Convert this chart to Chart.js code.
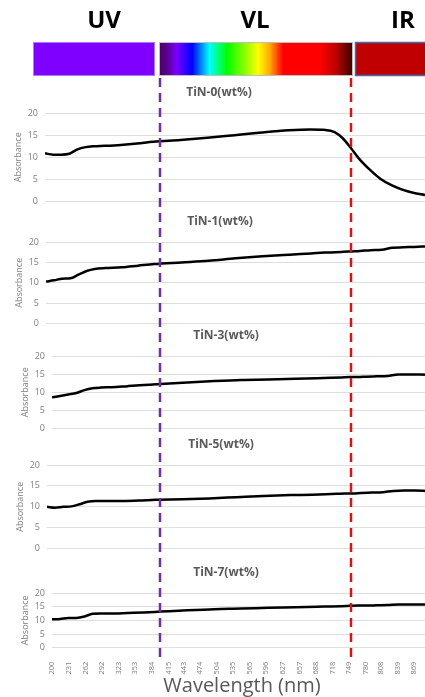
<!DOCTYPE html>
<html>
<head>
<meta charset="utf-8">
<script src="https://cdn.jsdelivr.net/npm/chart.js@4.4.1/dist/chart.umd.min.js"></script>
<style>
  html, body { margin: 0; padding: 0; background: #fff; }
  body { width: 425px; height: 697px; position: relative; overflow: hidden; }
  canvas { position: absolute; }
</style>
</head>
<body>
<canvas id="p0"></canvas>
<canvas id="p1"></canvas>
<canvas id="p2"></canvas>
<canvas id="p3"></canvas>
<canvas id="p4"></canvas>
<canvas id="overlay" width="425" height="697" style="left:0;top:0;z-index:5;pointer-events:none;"></canvas>
<script>
// wavelengths (nm) shared by all spectra
const wavelengths = [200, 215, 230, 245, 260, 275, 290, 310, 340, 370, 400, 450, 500, 550, 600,
                     650, 690, 715, 735, 750, 765, 780, 800, 820, 840, 860, 880, 902];

const tin0 = [10.9, 10.6, 10.6, 10.8, 11.8, 12.3, 12.5, 12.6, 12.8, 13.1, 13.5, 13.9, 14.4, 15.0, 15.6,
              16.1, 16.3, 16.2, 15.7, 14.3, 12.1, 9.7, 7.2, 5.1, 3.7, 2.7, 2.0, 1.5];
const tin1 = [10.3, 10.6, 11.0, 11.1, 12.0, 12.9, 13.4, 13.6, 13.8, 14.2, 14.6, 15.0, 15.4, 16.0, 16.5,
              16.9, 17.2, 17.4, 17.5, 17.6, 17.7, 17.8, 18.0, 18.1, 18.6, 18.7, 18.8, 18.9];
const tin3 = [8.6, 9.0, 9.4, 9.8, 10.6, 11.1, 11.3, 11.4, 11.7, 12.0, 12.3, 12.7, 13.1, 13.4, 13.5,
              13.7, 13.9, 14.0, 14.1, 14.2, 14.2, 14.3, 14.4, 14.5, 14.9, 14.9, 14.9, 14.8];
const tin5 = [10.0, 9.8, 10.0, 10.1, 10.6, 11.2, 11.4, 11.4, 11.4, 11.5, 11.7, 11.8, 12.0, 12.3, 12.6,
              12.8, 12.9, 13.0, 13.1, 13.2, 13.2, 13.3, 13.4, 13.5, 13.8, 13.9, 13.9, 13.8];
const tin7 = [10.4, 10.5, 10.9, 10.9, 11.4, 12.4, 12.5, 12.5, 12.7, 12.9, 13.2, 13.7, 14.1, 14.3, 14.6,
              14.8, 15.0, 15.1, 15.2, 15.3, 15.4, 15.4, 15.5, 15.6, 15.8, 15.8, 15.8, 15.8];

const seriesNames = ["TiN-0(wt%)", "TiN-1(wt%)", "TiN-3(wt%)", "TiN-5(wt%)", "TiN-7(wt%)"];
const seriesValues = [tin0, tin1, tin3, tin5, tin7];

const xTickValues = [200, 231, 262, 292, 323, 353, 384, 415, 443, 474, 504, 535, 565, 596, 627,
                     657, 688, 718, 749, 780, 808, 839, 869];
const yTickValues = [0, 5, 10, 15, 20];

// UV / VL and VL / IR borders (nm)
const bandEdges = [400, 752];
const bandLabels = ["UV", "VL", "IR"];

// page placement of each panel
const panels = [
  { left: -7, top: 83, height: 131 },
  { left: -6, top: 212, height: 124 },
  { left: 0, top: 326, height: 115 },
  { left: -5, top: 435, height: 126 },
  { left: 0, top: 563, height: 134 }
];
const canvasWidth = 432;

const panelTitle = {
  id: "panelTitle",
  afterDraw(chart, args, opts) {
    const { ctx, chartArea } = chart;
    ctx.save();
    ctx.font = 'bold 12px "Open Sans"';
    ctx.fillStyle = "#595959";
    ctx.textAlign = "center";
    ctx.textBaseline = "middle";
    ctx.fillText(opts.text, opts.x, chartArea.top - 20.5);
    ctx.restore();
  }
};

const charts = [];

seriesValues.forEach((vals, i) => {
  const p = panels[i];
  const last = i === seriesValues.length - 1;
  const cv = document.getElementById("p" + i);
  cv.width = canvasWidth;
  cv.height = p.height;
  cv.style.left = p.left + "px";
  cv.style.top = p.top + "px";

  const chart = new Chart(cv.getContext("2d"), {
    type: "line",
    data: {
      datasets: [{
        label: seriesNames[i],
        data: wavelengths.map((w, k) => ({ x: w, y: vals[k] })),
        borderColor: "#000",
        borderWidth: 2.5,
        pointRadius: 0,
        cubicInterpolationMode: "monotone"
      }]
    },
    plugins: [panelTitle],
    options: {
      responsive: false,
      animation: false,
      devicePixelRatio: 1,
      layout: { padding: { top: 30, bottom: last ? 0 : 8, left: 0, right: 0 } },
      plugins: {
        legend: { display: false },
        tooltip: { enabled: false },
        panelTitle: { text: seriesNames[i], x: 226 }
      },
      scales: {
        x: {
          type: "linear",
          min: 200,
          max: 902,
          display: last,
          afterBuildTicks: (s) => { s.ticks = xTickValues.map(v => ({ value: v })); },
          afterFit: (s) => { s.height = last ? 49.3 : 0; },
          grid: { display: false },
          border: { display: false },
          ticks: {
            autoSkip: false,
            minRotation: 90,
            maxRotation: 90,
            padding: 6,
            color: "#7f7f7f",
            font: { family: "Open Sans", size: 7.5 }
          },
          title: {
            display: true,
            text: "Wavelength (nm)",
            color: "#595959",
            font: { family: "Open Sans", size: 20, lineHeight: 1 },
            padding: { top: 0, bottom: 1 }
          }
        },
        y: {
          min: 0,
          max: 20,
          afterBuildTicks: (s) => { s.ticks = yTickValues.map(v => ({ value: v })); },
          afterFit: (s) => { s.width = 52; },
          grid: { color: "#dedede", lineWidth: 1, drawTicks: false },
          border: { display: false },
          ticks: {
            autoSkip: false,
            padding: 7,
            color: "#7f7f7f",
            font: { family: "Open Sans", size: 9 }
          },
          title: {
            display: true,
            text: "Absorbance",
            color: "#7f7f7f",
            font: { family: "Open Sans", size: 9 },
            padding: { top: 20, bottom: 0 }
          }
        }
      }
    }
  });
  charts.push(chart);
});

// spectrum band on top and the dashed region borders
const ov = document.getElementById("overlay").getContext("2d");

ov.font = 'bold 24px "Open Sans"';
ov.fillStyle = "#000";
ov.textAlign = "center";
ov.textBaseline = "alphabetic";
ov.fillText(bandLabels[0], 104, 28);
ov.fillText(bandLabels[1], 255, 28);
ov.fillText(bandLabels[2], 403, 28);

ov.fillStyle = "#7f00ff";
ov.fillRect(33, 42, 122, 34);
ov.strokeStyle = "#a77bff";
ov.lineWidth = 1;
ov.strokeRect(33.5, 42.5, 121, 33);

const grad = ov.createLinearGradient(159, 0, 353, 0);
grad.addColorStop(0, "#4a0060");
grad.addColorStop(0.04, "#5a0090");
grad.addColorStop(0.09, "#7a00ff");
grad.addColorStop(0.17, "#0000ff");
grad.addColorStop(0.26, "#00ffff");
grad.addColorStop(0.35, "#00ff00");
grad.addColorStop(0.45, "#99ff00");
grad.addColorStop(0.51, "#ffff00");
grad.addColorStop(0.57, "#ffaa00");
grad.addColorStop(0.64, "#ff0000");
grad.addColorStop(0.83, "#ff0000");
grad.addColorStop(0.91, "#c00000");
grad.addColorStop(1, "#3a0000");
ov.fillStyle = grad;
ov.fillRect(159, 42, 194, 34);
ov.strokeStyle = "#bfbfbf";
ov.strokeRect(159.5, 42.5, 193, 33);

ov.fillStyle = "#c00000";
ov.fillRect(355, 42, 75, 34);
ov.strokeStyle = "#3f6fb0";
ov.lineWidth = 1.5;
ov.strokeRect(355.5, 42.5, 75, 33);

const xs = charts[4].scales.x;
const edgeColors = ["#7030a0", "#d01818"];
ov.lineWidth = 2.5;
ov.setLineDash([9, 6]);
bandEdges.forEach((v, i) => {
  const px = Math.round(xs.getPixelForValue(v) + panels[4].left);
  ov.strokeStyle = edgeColors[i];
  ov.beginPath();
  ov.moveTo(px, 78);
  ov.lineTo(px, 657);
  ov.stroke();
});
</script>
</body>
</html>
